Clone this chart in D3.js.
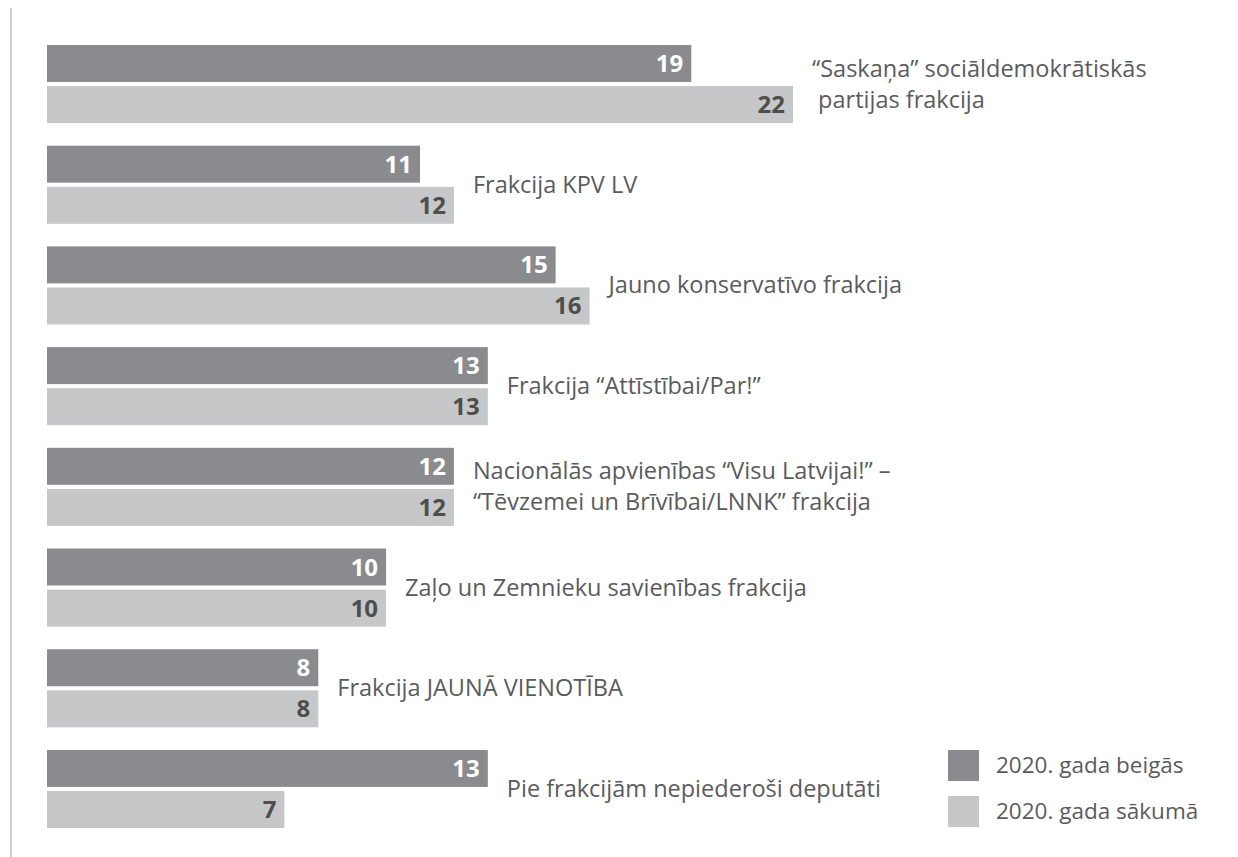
<!DOCTYPE html>
<html>
<head>
<meta charset="utf-8">
<script src="https://cdn.jsdelivr.net/npm/d3@7"></script>
<style>
  body { margin: 0; background: #fff; }
  text { font-family: "Open Sans", "Noto Sans", sans-serif; }
</style>
</head>
<body>
<div id="chart"></div>
<script>
// data
var factions = [
  ["\u201cSaskaņa\u201d sociāldemokrātiskās", " partijas frakcija"],
  ["Frakcija KPV LV"],
  ["Jauno konservatīvo frakcija"],
  ["Frakcija \u201cAttīstībai/Par!\u201d"],
  ["Nacionālās apvienības \u201cVisu Latvijai!\u201d \u2013", "\u201cTēvzemei un Brīvībai/LNNK\u201d frakcija"],
  ["Zaļo un Zemnieku savienības frakcija"],
  ["Frakcija JAUNĀ VIENOTĪBA"],
  ["Pie frakcijām nepiederoši deputāti"]
];
var endOf2020 = [19, 11, 15, 13, 12, 10, 8, 13];
var startOf2020 = [22, 12, 16, 13, 12, 10, 8, 7];
var seriesNames = ["2020. gada beigās", "2020. gada sākumā"];

var width = 1238, height = 857;
var margin = { top: 45, left: 47 };
var darkGray = "#898b8e", lightGray = "#c6c7c9", textGray = "#5a5b5e";

var svg = d3.select("#chart")
  .append("svg")
  .attr("width", width)
  .attr("height", height);

// thin rule at the left edge
svg.append("line")
  .attr("x1", 11).attr("x2", 11)
  .attr("y1", 8).attr("y2", height)
  .attr("stroke", "#cfcfcf")
  .attr("stroke-width", 2);

var rows = factions.map(function (f, i) {
  return { i: i, label: f, values: [endOf2020[i], startOf2020[i]] };
});

var x = d3.scaleLinear()
  .domain([0, 22])
  .range([0, 746]);

var y = d3.scaleBand()
  .domain(d3.range(factions.length))
  .range([margin.top, 828])
  .paddingInner(0.225)
  .paddingOuter(0);

var ySub = d3.scaleBand()
  .domain([0, 1])
  .range([0, y.bandwidth()])
  .paddingInner(0.1);

var colors = [darkGray, lightGray];
var valueColors = ["#ffffff", "#4e4f4a"];

var g = svg.append("g")
  .attr("transform", "translate(" + margin.left + ",0)");

var group = g.selectAll(".group")
  .data(rows)
  .enter()
  .append("g")
  .attr("class", "group")
  .attr("transform", function (d) { return "translate(0," + y(d.i) + ")"; });

group.selectAll("rect")
  .data(function (d) { return d.values; })
  .enter()
  .append("rect")
  .attr("x", 0)
  .attr("y", function (d, j) { return ySub(j); })
  .attr("width", function (d) { return x(d); })
  .attr("height", ySub.bandwidth())
  .attr("fill", function (d, j) { return colors[j]; });

group.selectAll(".val")
  .data(function (d) { return d.values; })
  .enter()
  .append("text")
  .attr("class", "val")
  .attr("x", function (d) { return x(d) - 8; })
  .attr("y", function (d, j) { return ySub(j) + ySub.bandwidth() - 10; })
  .attr("text-anchor", "end")
  .attr("font-weight", "bold")
  .style("font-size", "24px")
  .attr("fill", function (d, j) { return valueColors[j]; })
  .text(function (d) { return d; });

group.append("text")
  .attr("class", "label")
  .attr("x", function (d) { return x(d3.max(d.values)) + 19; })
  .attr("y", function (d) { return y.bandwidth() / 2 + 8 - (d.label.length - 1) * 15.5; })
  .attr("fill", textGray)
  .style("font-size", "23.5px")
  .style("white-space", "pre")
  .selectAll("tspan")
  .data(function (d) { return d.label; })
  .enter()
  .append("tspan")
  .attr("x", function () { return d3.select(this.parentNode).attr("x"); })
  .attr("dy", function (d, k) { return k === 0 ? 0 : 31; })
  .text(function (d) { return d; });

// legend
var legend = svg.append("g")
  .attr("transform", "translate(948,750)");

legend.selectAll("rect")
  .data(seriesNames)
  .enter()
  .append("rect")
  .attr("x", 0)
  .attr("y", function (d, i) { return i * 46; })
  .attr("width", 31)
  .attr("height", 31)
  .attr("fill", function (d, i) { return colors[i]; });

legend.selectAll("text")
  .data(seriesNames)
  .enter()
  .append("text")
  .attr("x", 48)
  .attr("y", function (d, i) { return i * 46 + 23; })
  .attr("fill", textGray)
  .style("font-size", "22.5px")
  .text(function (d) { return d; });
</script>
</body>
</html>
